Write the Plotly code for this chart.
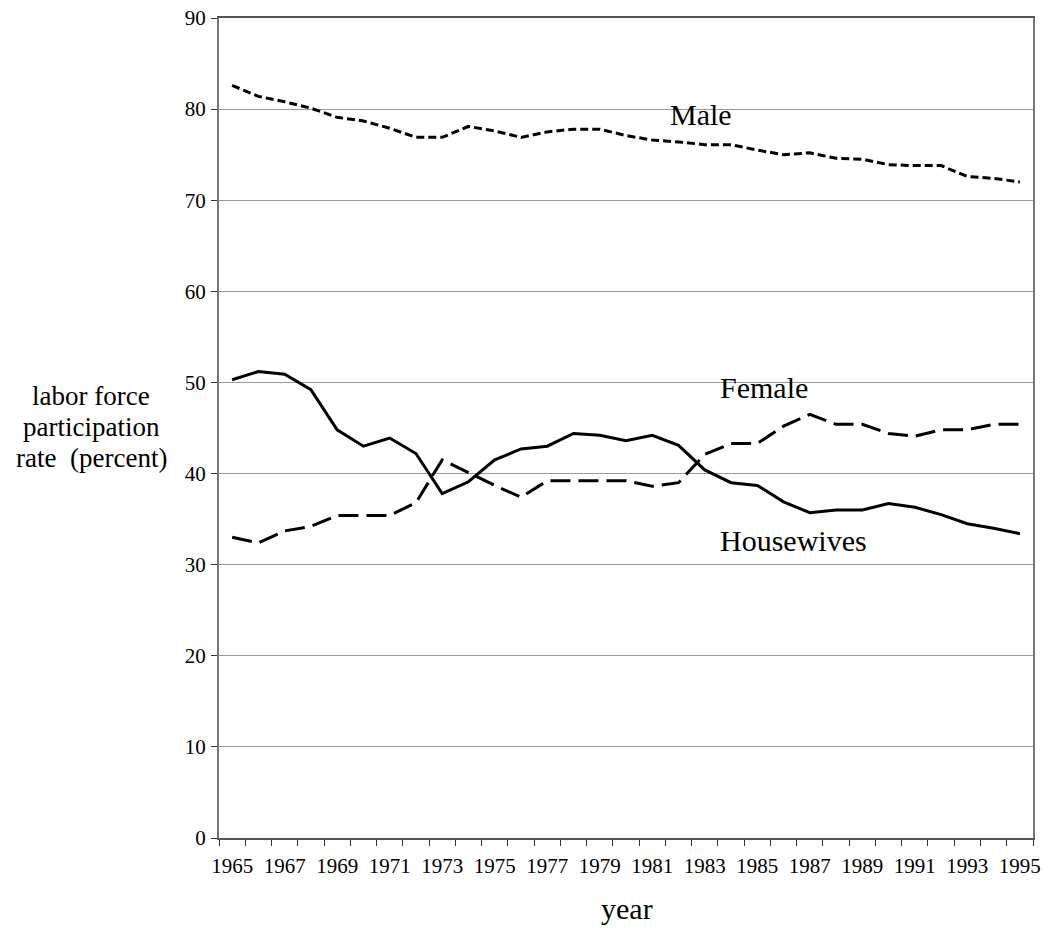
import plotly.graph_objects as go

years = list(range(1965, 1996))
male = [82.6, 81.4, 80.8, 80.1, 79.1, 78.7, 77.9, 76.9, 76.9, 78.1, 77.6, 76.9, 77.5, 77.8, 77.8, 77.1,
        76.6, 76.4, 76.1, 76.1, 75.5, 75.0, 75.2, 74.6, 74.5, 73.9, 73.8, 73.8, 72.6, 72.4, 72.0]
female = [33.0, 32.4, 33.7, 34.2, 35.4, 35.4, 35.4, 36.8, 41.5, 40.1, 38.7, 37.4, 39.2, 39.2, 39.2, 39.2,
          38.6, 39.0, 42.1, 43.3, 43.3, 45.2, 46.5, 45.4, 45.4, 44.4, 44.1, 44.8, 44.8, 45.4, 45.4]
housewives = [50.3, 51.2, 50.9, 49.2, 44.8, 43.0, 43.9, 42.2, 37.8, 39.1, 41.5, 42.7, 43.0, 44.4, 44.2, 43.6,
              44.2, 43.1, 40.4, 39.0, 38.7, 36.9, 35.7, 36.0, 36.0, 36.7, 36.3, 35.5, 34.5, 34.0, 33.4]
year_labels = list(range(1965, 1996, 2))
y_ticks = list(range(0, 91, 10))

FONT = "Liberation Serif"

PLOT_W, PLOT_H = 814, 820

fig = go.Figure()
fig.add_trace(go.Scatter(x=years, y=male, mode="lines", name="Male",
                         line=dict(color="black", width=3, dash="8px,4px")))
fig.add_trace(go.Scatter(x=years, y=female, mode="lines", name="Female",
                         line=dict(color="black", width=3, dash="20px,8px")))
fig.add_trace(go.Scatter(x=years, y=housewives, mode="lines", name="Housewives",
                         line=dict(color="black", width=3)))

fig.update_layout(
    width=1047, height=928,
    margin=dict(l=219, r=14, t=18, b=90),
    paper_bgcolor="white", plot_bgcolor="white",
    showlegend=False,
    font=dict(family=FONT, color="black", size=21),
)
fig.update_xaxes(
    automargin=False,
    range=[1964.5, 1995.5],
    tickmode="array", tickvals=year_labels, ticktext=[str(y) for y in year_labels],
    ticks="", tickfont=dict(size=21, family=FONT),
    ticklabelstandoff=8, ticklabeloverflow="allow",
    showgrid=False, zeroline=False,
    showline=True, linecolor="#555555", linewidth=2, mirror=True,
    minor=dict(tick0=1964.5, dtick=1, ticks="outside", ticklen=6, tickcolor="#333333", tickwidth=1, showgrid=False),
)
fig.update_yaxes(
    automargin=False,
    range=[0, 90], tickmode="array", tickvals=y_ticks,
    ticks="outside", ticklen=6, tickcolor="#333333", tickwidth=1,
    tickfont=dict(size=21, family=FONT), ticklabelstandoff=1, ticklabeloverflow="allow",
    showgrid=True, gridcolor="#9a9a9a", gridwidth=1, zeroline=False,
    showline=True, linecolor="#777777", linewidth=2, mirror=True,
)

# Series labels
fig.add_annotation(x=1981.6, y=79.4, text="Male", showarrow=False, xanchor="left", yanchor="middle",
                   font=dict(size=30, family=FONT))
fig.add_annotation(x=1983.5, y=49.5, text="Female", showarrow=False, xanchor="left", yanchor="middle",
                   font=dict(size=30, family=FONT))
fig.add_annotation(x=1983.5, y=32.6, text="Housewives", showarrow=False, xanchor="left", yanchor="middle",
                   font=dict(size=30, family=FONT))

# Y axis title (three horizontal lines); positions in px relative to plot area (top=0)
title_lines = ["labor force", "participation", "rate  (percent)"]
for i, t in enumerate(title_lines):
    py = 378 + 31 * i
    fig.add_annotation(xref="paper", yref="paper", x=(91 - 219) / PLOT_W, y=(PLOT_H - py) / PLOT_H,
                       text=t, showarrow=False, xanchor="center", yanchor="middle",
                       font=dict(size=27, family=FONT))

# X axis title
fig.add_annotation(xref="paper", yref="paper", x=(627 - 219) / PLOT_W, y=(PLOT_H - 890) / PLOT_H, text="year",
                   showarrow=False, xanchor="center", yanchor="middle", font=dict(size=30, family=FONT))

# Remove the browser's default 8px body margin so the figure fills the window exactly.
fig.write_html("out.html", config={"displayModeBar": False},
               post_script="document.body.style.margin='0';")
